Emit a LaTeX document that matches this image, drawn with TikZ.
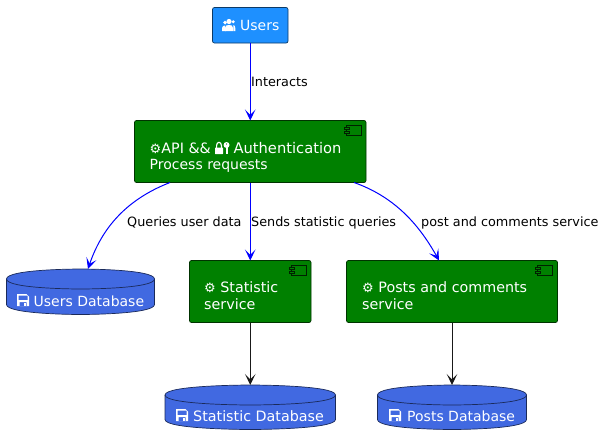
\documentclass[tikz,border=0pt]{standalone}
\usepackage{fontspec}
\setmainfont{DejaVu Sans}
\usetikzlibrary{arrows.meta,bending}
\definecolor{compgreen}{RGB}{0,128,0}
\definecolor{userblue}{RGB}{30,144,255}
\definecolor{dbblue}{RGB}{65,105,225}
\tikzset{
  x=1pt,y=-1pt,
  comp/.style={draw=black!60!compgreen,fill=compgreen,rounded corners=2pt,line width=.7pt,inner sep=0pt,outer sep=0pt,anchor=north west},
  actorbox/.style={draw=black!60!userblue,fill=userblue,rounded corners=2pt,line width=.7pt,inner sep=0pt,outer sep=0pt,anchor=north west},
  ghost/.style={inner sep=0pt,outer sep=0pt,anchor=north west},
  cyl/.style={draw=black!60!dbblue,fill=dbblue,line width=.7pt},
  wtext/.style={text=white,font=\fontsize{14.3}{16.3}\selectfont,align=left,inner sep=0pt,anchor=base west},
  wsmall/.style={wtext,font=\fontsize{14}{16.3}\selectfont},
  wwide/.style={wtext,font=\fontsize{14.7}{16.3}\selectfont},
  ltext/.style={text=black,font=\fontsize{12.8}{15}\selectfont,inner sep=0pt,anchor=base west},
  blueflow/.style={draw=blue,line width=1pt,-{Stealth[length=11pt,width=10.5pt,inset=5.5pt,flex=1]}},
  blackflow/.style={draw=black!90,line width=1pt,-{Stealth[length=11pt,width=10.5pt,inset=5.5pt]}},
}
% name, x1, x2, y1, y2
\newcommand{\dbcyl}[5]{%
  \pgfmathsetmacro{\dbW}{#3-#2}
  \pgfmathsetmacro{\dbH}{#5-#4}
  \pgfmathsetmacro{\dbM}{(#2+#3)/2}
  \pgfmathsetmacro{\dbT}{#4+10}
  \pgfmathsetmacro{\dbB}{#5-10}
  \pgfmathsetmacro{\dbI}{#4+20}
  \node[ghost,minimum width=\dbW pt,minimum height=\dbH pt] (#1) at (#2,#4) {};
  \draw[cyl] (#2,\dbT) .. controls (#2,#4) and (\dbM,#4) .. (\dbM,#4)
     .. controls (\dbM,#4) and (#3,#4) .. (#3,\dbT)
     -- (#3,\dbB) .. controls (#3,#5) and (\dbM,#5) .. (\dbM,#5)
     .. controls (\dbM,#5) and (#2,#5) .. (#2,\dbB) -- cycle;
  \draw[cyl,fill=none] (#2,\dbT) .. controls (#2,\dbI) and (\dbM,\dbI) .. (\dbM,\dbI)
     .. controls (\dbM,\dbI) and (#3,\dbI) .. (#3,\dbT);
}
% left, top of the component glyph
\newcommand{\compglyph}[2]{%
  \begin{scope}[shift={(#1,#2)}]
  \draw[black!75!compgreen,line width=.7pt] (2.5,0) rectangle (17.5,10.5);
  \draw[black!75!compgreen,line width=.7pt,fill=compgreen] (0,2.5) rectangle (5,4.5);
  \draw[black!75!compgreen,line width=.7pt,fill=compgreen] (0,6) rectangle (5,8);
  \end{scope}
}
% floppy at left, top
\newcommand{\floppy}[2]{%
  \begin{scope}[shift={(#1,#2)}]
  \fill[white,even odd rule] (0,0) -- (9.5,0) -- (12,2.5) -- (12,12) -- (0,12) -- cycle
    (1.5,1.5) rectangle (10.5,6)
    (2.5,8) rectangle (9.5,12);
  \fill[white] (6.5,9) rectangle (8.5,12);
  \end{scope}
}
\begin{document}
\begin{tikzpicture}
\useasboundingbox (0,0) rectangle (607,445);

% boxes
\node[actorbox,minimum width=75.5pt,minimum height=35.5pt] (users) at (212.5,7.5) {};
\node[comp,minimum width=231.5pt,minimum height=62pt] (api) at (134.5,120.5) {};
\node[comp,minimum width=121.5pt,minimum height=62pt] (stat) at (189.5,260.5) {};
\node[comp,minimum width=211pt,minimum height=62pt] (posts) at (346.5,260.5) {};
\compglyph{344.2}{125.3}
\compglyph{289.2}{265.3}
\compglyph{535.2}{265.3}

% databases
\dbcyl{usersdb}{6.5}{154.5}{269}{314.5}
\dbcyl{statdb}{165}{335.5}{385}{429.5}
\dbcyl{postsdb}{377.5}{526.5}{385}{429.5}

% texts
\node[wsmall] (tusers) at (240,30) {Users};
\node[wtext] (tapi) at (149.5,153) {{\fontsize{13}{15}\selectfont ⚙}API \&\&};
\node[wwide] (tauth) at (233.3,153) {Authentication};
\node[wsmall] (tproc) at (149.5,169) {Process requests};
\node[wtext] (tstat) at (204,309) {{\fontsize{13}{15}\selectfont ⚙} Statistic\\service};
\node[wtext] (tposts) at (362,309) {{\fontsize{13}{15}\selectfont ⚙} Posts and comments\\service};
\node[wsmall] (tudb) at (33.5,306) {Users Database};
\node[wtext] (tsdb) at (193,421) {Statistic Database};
\node[wsmall] (tpdb) at (407,421) {Posts Database};

% icons: users
\fill[white] (229,21.5) circle (2.6);
\fill[white] (225,22.6) circle (1.9);
\fill[white] (222,31) -- (222,28) .. controls (222,26) and (224,25.5) .. (225,25.5) -- (226,31) -- cycle;
\fill[white] (225,31) -- (225,28) .. controls (225,25.5) and (226.5,25) .. (229,25) .. controls (231.5,25) and (233,25.5) .. (233,28) -- (233,31) -- cycle;
\fill[white] (233.2,21.8) circle (1.6);
\fill[white] (233.4,31) -- (233.4,25.2) .. controls (234.2,25) and (235.3,26) .. (235.3,28) -- (235.3,31) -- cycle;

% icons: lock and key
\fill[white,rounded corners=.5pt] (215,147.5) rectangle (223,154);
\draw[white,line width=1.2pt] (216.6,148) -- (216.6,145.5) .. controls (216.6,141.3) and (221.4,141.3) .. (221.4,145.5) -- (221.4,148);
\fill[white,even odd rule] (226.5,145) circle (3) (226.5,144) circle (.9);
\fill[white] (225.5,147) rectangle (227.5,154);

% icons: floppies
\floppy{17}{294}
\floppy{176}{409}
\floppy{389}{409}

% connectors
\draw[blueflow] (users.south) -- (api.north);
\node[ltext] (linter) at (251,86) {Interacts};

\coordinate (apiL) at (170,182.5);
\coordinate (apiR) at (354,182.5);
\coordinate (udbTop) at (88,269);
\coordinate (pTop) at (439,260.5);
\draw[blueflow] (apiL) .. controls (125,200) and (100,230) .. (udbTop);
\draw[blueflow] (api.south) -- (stat.north);
\draw[blueflow] (apiR) .. controls (395,197) and (420,225) .. (pTop);
\node[ltext] (lqueries) at (127,226) {Queries user data};
\node[ltext] (lsends) at (251,226) {Sends statistic queries};
\node[ltext] (lpost) at (421,226) {post and comments service};

\draw[blackflow] (stat.south) -- (statdb.north);
\draw[blackflow] (posts.south) -- (postsdb.north);
\end{tikzpicture}
\end{document}
